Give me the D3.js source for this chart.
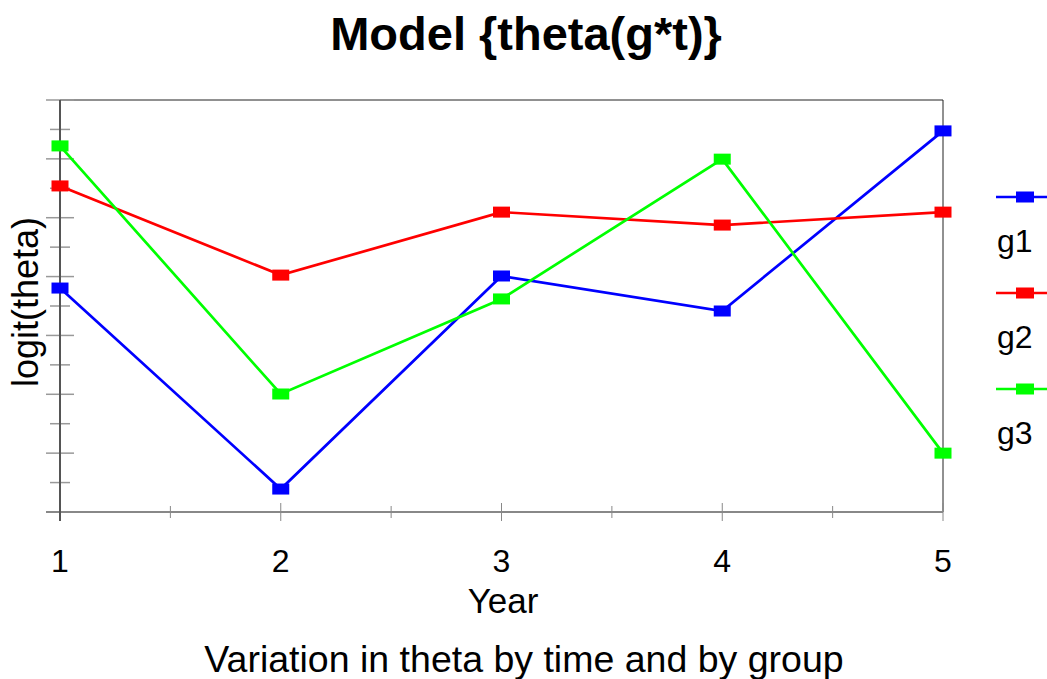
<!DOCTYPE html>
<html>
<head>
<meta charset="utf-8">
<script src="https://cdn.jsdelivr.net/npm/d3@7"></script>
<style>
  body { margin: 0; background: #fff; }
  text { font-family: "Liberation Sans", Arial, sans-serif; fill: #000; }
</style>
</head>
<body>
<script>
var width = 1047,
    height = 679;

var years = [1, 2, 3, 4, 5];
var groups = ["g1", "g2", "g3"];
var colors = ["#0000ff", "#ff0000", "#00ff00"];
var g1 = [7.61, 0.78, 8.02, 6.83, 12.95];
var g2 = [11.08, 8.05, 10.19, 9.75, 10.19];
var g3 = [12.44, 4.01, 7.24, 11.99, 2.0];
var series = [g1, g2, g3];

var margin = {left: 60, right: 104, top: 100, bottom: 167};

var svg = d3.select("body").append("svg")
    .attr("width", width)
    .attr("height", height);

var x = d3.scaleLinear()
    .domain([1, 5])
    .range([margin.left, width - margin.right]);

var y = d3.scaleLinear()
    .domain([0, 14])
    .range([height - margin.bottom, margin.top]);

// frame (top and right)
svg.append("path")
    .attr("d", "M" + x(1) + "," + y(14) + "H" + x(5) + "V" + y(0))
    .attr("fill", "none")
    .attr("stroke", "#222")
    .attr("stroke-width", 1);

// y ticks: major every 2, minor in between
var yTicks = d3.range(0, 15);
svg.selectAll(".ytick")
    .data(yTicks)
  .enter().append("line")
    .attr("class", "ytick")
    .attr("x1", function(d) { return x(1) - (d % 2 == 0 ? 14 : 10); })
    .attr("x2", function(d) { return x(1) + (d % 2 == 0 ? 14 : 10); })
    .attr("y1", function(d) { return y(d); })
    .attr("y2", function(d) { return y(d); })
    .attr("stroke", "#999")
    .attr("stroke-width", 1.5);

// x ticks
var xTicks = d3.range(1, 5.01, 0.5);
svg.selectAll(".xtick")
    .data(xTicks)
  .enter().append("line")
    .attr("class", "xtick")
    .attr("x1", function(d) { return x(d); })
    .attr("x2", function(d) { return x(d); })
    .attr("y1", function(d) { return y(0) - (d % 1 == 0 ? 9 : 6); })
    .attr("y2", function(d) { return y(0) + (d % 1 == 0 ? 9 : 6); })
    .attr("stroke", "#888")
    .attr("stroke-width", 1);

// axes lines
svg.append("line")
    .attr("x1", x(1) - 14).attr("x2", x(5))
    .attr("y1", y(0)).attr("y2", y(0))
    .attr("stroke", "#888").attr("stroke-width", 2);
svg.append("line")
    .attr("x1", x(1)).attr("x2", x(1))
    .attr("y1", y(14)).attr("y2", y(0) + 9)
    .attr("stroke", "#555").attr("stroke-width", 2);

svg.selectAll(".xlabel")
    .data(years)
  .enter().append("text")
    .attr("class", "xlabel")
    .attr("x", function(d) { return x(d); })
    .attr("y", 572)
    .attr("text-anchor", "middle")
    .attr("font-size", 32)
    .text(function(d) { return d; });

var line = d3.line()
    .x(function(d, i) { return x(years[i]); })
    .y(function(d) { return y(d); });

series.forEach(function(s, k) {
  svg.append("path")
      .datum(s)
      .attr("d", line)
      .attr("fill", "none")
      .attr("stroke", colors[k])
      .attr("stroke-width", 2.7);
});

series.forEach(function(s, k) {
  svg.selectAll(".pt" + k)
      .data(s)
    .enter().append("rect")
      .attr("x", function(d, i) { return x(years[i]) - 8.5; })
      .attr("y", function(d) { return y(d) - 5.5; })
      .attr("width", 17)
      .attr("height", 11)
      .attr("fill", colors[k]);
});

// legend
var legend = svg.selectAll(".legend")
    .data(groups)
  .enter().append("g")
    .attr("class", "legend")
    .attr("transform", function(d, i) { return "translate(996," + (197 + i * 96) + ")"; });

legend.append("line")
    .attr("x1", 0).attr("x2", 51)
    .attr("stroke", function(d, i) { return colors[i]; })
    .attr("stroke-width", 2.5);
legend.append("rect")
    .attr("x", 20).attr("y", -5.5)
    .attr("width", 18).attr("height", 11)
    .attr("fill", function(d, i) { return colors[i]; });
legend.append("text")
    .attr("x", 1).attr("y", 55)
    .attr("font-size", 32)
    .text(function(d) { return d; });

svg.append("text")
    .attr("x", 526).attr("y", 50)
    .attr("text-anchor", "middle")
    .attr("font-size", 47)
    .attr("font-weight", "bold")
    .text("Model {theta(g*t)}");

svg.append("text")
    .attr("x", 503).attr("y", 613)
    .attr("text-anchor", "middle")
    .attr("font-size", 35)
    .text("Year");

svg.append("text")
    .attr("transform", "translate(38,302) rotate(-90)")
    .attr("text-anchor", "middle")
    .attr("font-size", 36)
    .text("logit(theta)");

svg.append("text")
    .attr("x", 524).attr("y", 672)
    .attr("text-anchor", "middle")
    .attr("font-size", 37.5)
    .text("Variation in theta by time and by group");
</script>
</body>
</html>
